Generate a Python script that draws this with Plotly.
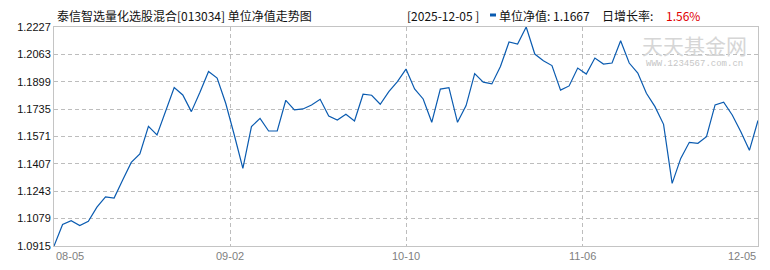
import plotly.graph_objects as go

# ---- data ----
nav = [1.0915, 1.1044, 1.1067, 1.1037, 1.1063, 1.1148, 1.1209, 1.1202, 1.1310, 1.1416,
       1.1466, 1.1632, 1.1580, 1.1722, 1.1864, 1.1820, 1.1720, 1.1836, 1.1960, 1.1921,
       1.1770, 1.1580, 1.1380, 1.1630, 1.1680, 1.1604, 1.1604, 1.1788, 1.1730, 1.1736,
       1.1760, 1.1794, 1.1694, 1.1670, 1.1704, 1.1664, 1.1824, 1.1818, 1.1764, 1.1840,
       1.1900, 1.1975, 1.1856, 1.1796, 1.1656, 1.1855, 1.1864, 1.1656, 1.1756, 1.1948,
       1.1897, 1.1886, 1.1990, 1.2137, 1.2125, 1.2227, 1.2065, 1.2025, 1.1996, 1.1849,
       1.1874, 1.1981, 1.1945, 1.2041, 1.2005, 1.2011, 1.2145, 1.2011, 1.1951, 1.1830,
       1.1750, 1.1644, 1.1290, 1.1440, 1.1536, 1.1530, 1.1570, 1.1760, 1.1776, 1.1700,
       1.1600, 1.1488, 1.1667]
x_idx = list(range(len(nav)))
x_tick_labels = ["08-05", "09-02", "10-10", "11-06", "12-05"]
y_ticks = [1.0915, 1.1079, 1.1243, 1.1407, 1.1571, 1.1735, 1.1899, 1.2063, 1.2227]
title_text = "泰信智选量化选股混合[013034] 单位净值走势图"
last_date = "[2025-12-05 ]"
last_nav = "1.1667"
last_growth = "1.56%"

# ---- layout geometry ----
W, H = 770, 270
L, R, T, B = 54, 12, 27, 24
PW = W - L - R
PH = H - T - B

def px(x):
    return (x - L) / PW

def py(y):
    return (H - B - y) / PH

n = len(nav)
x_tick_vals = [i * (n - 1) / 4 for i in range(5)]

fig = go.Figure()
fig.add_trace(go.Scatter(x=x_idx, y=nav, mode="lines",
                         line=dict(color="#0a5bb0", width=1.2),
                         hoverinfo="skip", showlegend=False))

grid_col = "#bdbdbd"
fig.update_layout(
    width=W, height=H,
    margin=dict(l=L, r=R, t=T, b=B, pad=0),
    paper_bgcolor="white", plot_bgcolor="white",
    showlegend=False,
    xaxis=dict(range=[0, n - 1], tickvals=x_tick_vals,
               showticklabels=False,
               showgrid=True, gridcolor=grid_col, griddash="4px,3px", gridwidth=1,
               showline=True, linecolor="#c4c4c4", linewidth=1, mirror=True,
               zeroline=False, ticks="", ticklen=0),
    yaxis=dict(range=[y_ticks[0], y_ticks[-1]], tickvals=y_ticks,
               ticktext=[f"{v:.4f}" for v in y_ticks],
               showgrid=True, gridcolor=grid_col, griddash="4px,3px", gridwidth=1,
               showline=True, linecolor="#c4c4c4", linewidth=1, mirror=True,
               zeroline=False, ticks="", ticklen=0,
               tickfont=dict(family="Liberation Sans", size=11, color="#111111")),
)

# x tick labels placed through the x axis scale
for i, (tv, tl) in enumerate(zip(x_tick_vals, x_tick_labels)):
    anchor = "left" if i == 0 else ("right" if i == len(x_tick_vals) - 1 else "center")
    fig.add_annotation(xref="x", yref="paper", x=tv, y=py(256), text=tl,
                       xanchor=anchor, yanchor="middle", showarrow=False,
                       font=dict(family="Liberation Sans", size=11, color="#808080"))

cjk = "Noto Sans CJK SC"
annos = [
    dict(text=title_text, x=px(55), y=py(15), xanchor="left", yanchor="middle",
         font=dict(family=cjk, size=12, color="#111111")),
    dict(text=last_date, x=px(405), y=py(15), xanchor="left", yanchor="middle",
         font=dict(family=cjk, size=12, color="#111111")),
    dict(text="单位净值: " + last_nav, x=px(497), y=py(15), xanchor="left", yanchor="middle",
         font=dict(family=cjk, size=12, color="#111111")),
    dict(text="日增长率: ", x=px(600), y=py(15), xanchor="left", yanchor="middle",
         font=dict(family=cjk, size=12, color="#111111")),
    dict(text=last_growth, x=px(664), y=py(15), xanchor="left", yanchor="middle",
         font=dict(family=cjk, size=12, color="#e00000")),
    dict(text="天天基金网", x=px(694), y=py(45), xanchor="center", yanchor="middle",
         font=dict(family=cjk, size=21, color="#d6d6d6")),
    dict(text="WWW.1234567.com.cn", x=px(694), y=py(64), xanchor="center", yanchor="middle",
         font=dict(family="Liberation Mono", size=9, color="#c6c6c6")),
]
for a in annos:
    fig.add_annotation(xref="paper", yref="paper", showarrow=False, **a)

fig.add_shape(type="rect", xref="paper", yref="paper",
              x0=px(490), x1=px(496), y0=py(16.5), y1=py(13.5),
              fillcolor="#0a5bb0", line=dict(width=0))

fig.write_html("out.html")
